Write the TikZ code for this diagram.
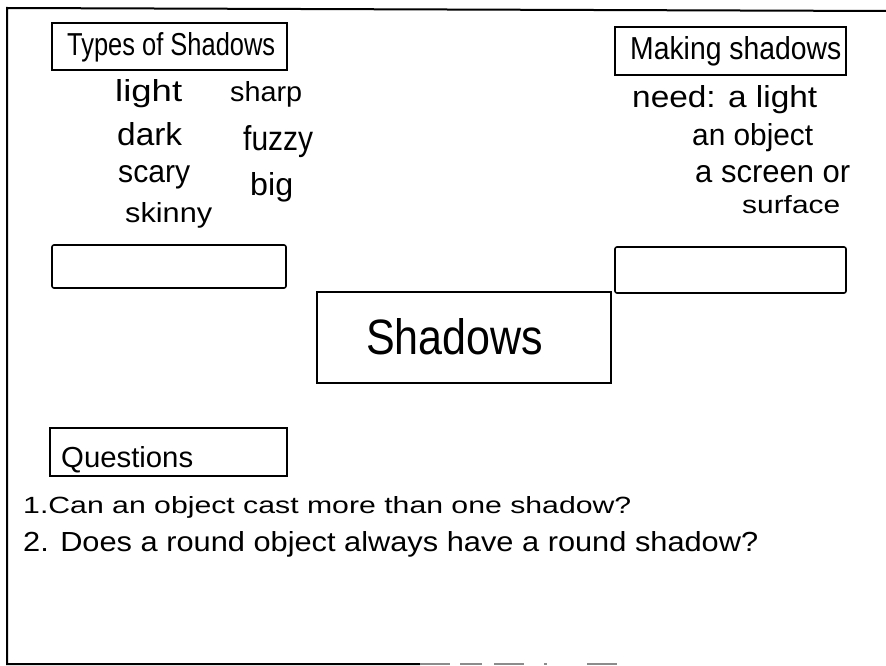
\documentclass[tikz,border=0pt]{standalone}
\usepackage{fontspec}
\setmainfont{Liberation Sans}
\usepackage{graphicx}
\newcommand\hwtext[3]{\resizebox{#1pt}{#2pt}{#3}}
\begin{document}
\begin{tikzpicture}[x=1pt,y=-1pt,
  box/.style={draw, line width=1.6pt, inner sep=0pt, rectangle},
  emptybox/.style={box, rounded corners=2pt},
  txt/.style={inner sep=0pt, anchor=base west},
  frame/.style={line width=2pt, line cap=round}]
\useasboundingbox (0,0) rectangle (886,666);

% outer frame
\coordinate (ftr) at (886,11);
\coordinate (ftl) at (7,8);
\coordinate (fbl) at (7,664);
\coordinate (fbm) at (420,664);
\coordinate (fbr) at (622,664);
\draw[frame] (ftr) -- (ftl) -- (fbl) -- (fbm);
\draw[line width=2pt, black!45, dash pattern=on 30pt off 10pt on 22pt off 12pt on 30pt off 20pt on 3pt off 40pt] (fbm) -- (fbr);

% boxes
\node[box, minimum width=235pt, minimum height=47pt] (types) at (169.5,46.5) {};
\node[emptybox, minimum width=234pt, minimum height=43pt] (leftempty) at (169,266.5) {};
\node[box, minimum width=231pt, minimum height=48pt] (making) at (730.5,51) {};
\node[emptybox, minimum width=231pt, minimum height=46pt] (rightempty) at (730.5,270) {};
\node[box, minimum width=294pt, minimum height=91pt] (shadows) at (464,337.5) {};
\node[box, minimum width=237pt, minimum height=48pt] (questions) at (168.5,452) {};

% titles
\node[txt] (typest) at (67,56) {\hwtext{208}{23}{Types of Shadows}};
\node[txt] (makingt) at (630,60) {\hwtext{211}{23}{Making shadows}};
\node[txt] (shadowst) at (366,354) {\hwtext{177}{36}{Shadows}};
\node[txt] (questionst) at (61,467) {\hwtext{132}{21}{Questions}};

% types of shadows words
\node[txt] (wlight) at (115,102) {\hwtext{67}{22}{light}};
\node[txt] (wsharp) at (230,102) {\hwtext{72}{20}{sharp}};
\node[txt] (wdark) at (117,145) {\hwtext{65}{23}{dark}};
\node[txt] (wfuzzy) at (243,150) {\hwtext{70}{25}{fuzzy}};
\node[txt] (wscary) at (118,182) {\hwtext{72}{17}{scary}};
\node[txt] (wbig) at (250,195) {\hwtext{43}{23}{big}};
\node[txt] (wskinny) at (125,222) {\hwtext{87}{20}{skinny}};

% making shadows list
\node[txt] (need) at (632,107) {\hwtext{185}{22}{need: a light}};
\node[txt] (object) at (692,145) {\hwtext{121}{22}{an object}};
\node[txt] (screen) at (695,182) {\hwtext{155}{17}{a screen or}};
\node[txt] (surface) at (742,213) {\hwtext{98}{18}{surface}};

% questions
\node[txt] (q1) at (23,513) {\hwtext{608}{17}{1.Can an object cast more than one shadow?}};
\node[txt] (q2) at (23,551) {\hwtext{735}{20}{2. Does a round object always have a round shadow?}};
\end{tikzpicture}
\end{document}
